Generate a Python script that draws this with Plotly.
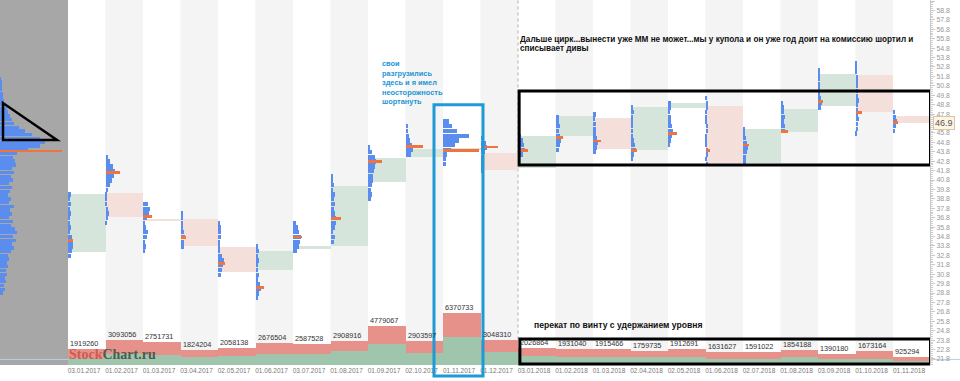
import plotly.graph_objects as go

# ---------------- data ----------------
months = ["03.01.2017", "01.02.2017", "01.03.2017", "03.04.2017", "02.05.2017", "01.06.2017",
          "03.07.2017", "01.08.2017", "01.09.2017", "02.10.2017", "01.11.2017", "01.12.2017",
          "03.01.2018", "01.02.2018", "01.03.2018", "02.04.2018", "02.05.2018", "01.06.2018",
          "02.07.2018", "01.08.2018", "03.09.2018", "01.10.2018", "01.11.2018"]

open_px = [33.19, 39.39, 36.62, 36.66, 33.72, 31.24, 33.50, 33.79, 40.62, 43.27, 44.00, 43.70,
           42.04, 45.50, 47.41, 43.98, 48.41, 48.65, 42.57, 45.93, 48.65, 51.94, 47.59]
close_px = [39.28, 36.90, 36.45, 33.82, 31.07, 33.30, 33.75, 40.16, 43.17, 44.09, 44.15, 41.86,
            45.50, 47.59, 44.06, 48.58, 48.94, 42.57, 46.18, 48.34, 52.05, 47.98, 46.82]

poc_price = [34.40, 41.57, 36.90, 34.72, 31.95, 29.41, 34.75, 36.73, 42.74, 44.33, 43.95, 44.30,
             43.95, 45.33, 44.94, 43.95, 45.71, 43.95, 44.51, 45.93, 49.11, 47.98, 46.88]
poc_volume = [5, 14, 9, 5, 7, 8, 9, 10, 14, 17, 36, 17, 10, 7, 8, 6, 9, 4, 6, 7, 5, 6, 5]

# monthly volume profile: first price level, then volumes per 0.5 step
profile_start = [32.75, 36.25, 33.25, 33.75, 30.75, 28.25, 33.25, 34.25, 38.75, 43.5, 42.5, 41.75,
                 43.5, 44.0, 43.75, 43.0, 44.5, 42.5, 42.75, 46.0, 48.5, 45.75, 46.0]
profile_vol = [
    [3, 4, 5, 5, 4, 2, 3, 2, 2, 3, 2, 3, 2, 3],
    [1, 2, 3, 2, 1, 1, 1, 2, 4, 6, 8, 9, 7, 4, 2],
    [2, 3, 2, 4, 5, 3, 2, 4, 6, 7, 5],
    [3, 3, 4, 3, 2, 2, 2, 2],
    [3, 4, 5, 6, 4, 2, 2, 2, 3, 3, 3, 2],
    [2, 3, 5, 4, 2, 3, 2, 2, 3, 2, 3, 2],
    [4, 6, 7, 8, 6, 5, 3],
    [3, 4, 2, 4, 5, 5, 4, 3, 4, 3, 4, 2, 3, 2, 2],
    [3, 4, 3, 4, 5, 5, 6, 7, 8, 7, 4, 2],
    [5, 7, 6, 4, 3, 2, 2],
    [3, 3, 4, 8, 12, 16, 26, 14, 9, 6],
    [2, 3, 2, 3, 4, 6, 5, 2],
    [5, 7, 6, 5, 3],
    [3, 4, 5, 4, 3, 4, 3, 3],
    [3, 4, 5, 4, 3, 3, 3, 2, 3],
    [2, 3, 5, 4, 3, 2, 2, 2, 2, 2, 3, 2],
    [2, 3, 4, 5, 4, 3, 3, 2, 3, 3],
    [2, 1, 2, 2, 1, 1, 1, 2, 2, 1, 1, 1, 2, 2, 1],
    [3, 3, 4, 5, 4, 3, 2, 2],
    [4, 4, 3, 4, 3, 3, 2],
    [3, 4, 3, 2, 2, 2, 2, 2, 2],
    [1, 2, 2, 3, 2, 2, 2, 3, 2, 2, 2, 2, 2, 1, 1, 1],
    [2, 3, 4, 3, 2],
]

# overall profile (left panel): first level 28.8, step 0.4
total_profile_start = 28.8
total_profile_vol = [3, 5, 4, 6, 5, 7, 6, 8, 7, 9, 8, 11, 14, 12, 16, 13, 17, 15, 11, 13,
                     9, 12, 10, 14, 9, 11, 8, 10, 12, 9, 13, 11, 14, 12, 16, 15, 13, 17, 28, 40,
                     45, 40, 32, 25, 19, 14, 12, 10, 8, 7, 5, 4, 3, 3, 2, 2, 2, 1]
total_poc_price = 43.88
total_poc_volume = 62

volume_total = [1919260, 3093056, 2751731, 1824204, 2058138, 2676504, 2587528, 2908916,
                4779067, 2903597, 6370733, 3048310, 2026864, 1931040, 1915466, 1759735,
                1912691, 1631627, 1591022, 1854188, 1390180, 1673164, 925294]
volume_buy = [900000, 1350000, 1200000, 1000000, 1070000, 1300000, 1300000, 1670000,
              2600000, 1470000, 3380000, 1590000, 1150000, 1000000, 950000, 950000,
              1000000, 780000, 750000, 950000, 700000, 760000, 450000]

last_price = 46.9
price_ticks = [round(21.8 + k, 1) for k in range(39)]

note_blue = ["свои", "разгрузились", "здесь и я имел", "неосторожность", "шортануть"]
note_top = ["Дальше цирк...вынести уже ММ не может...мы у купола и он уже год доит на комиссию шортил и",
            "списывает дивы"]
note_bottom = "перекат по винту с удержанием уровня"

# ---------------- style ----------------
COL_PX = 37.5
PLOT_H = 365
X_MIN, X_MAX = -68 / COL_PX, 862 / COL_PX
Y_MIN, Y_MAX = 21.16, 59.91
BLUE = "#5b8def"
ORANGE = "#f0743e"
BOX_UP, BOX_DN = "#d5e5db", "#f5dfdb"
VOL_RED, VOL_GREEN = "#e6928a", "#9fc6ad"
FONT = "Liberation Sans"


def ypaper(px):
    return (PLOT_H - px) / PLOT_H


n = len(months)
idx = list(range(n))
fig = go.Figure()

# month boxes (open-close range)
fig.add_trace(go.Bar(
    x=[i + 0.5 for i in idx],
    y=[abs(c - o) for o, c in zip(open_px, close_px)],
    base=[min(o, c) for o, c in zip(open_px, close_px)],
    width=1, marker=dict(color=[BOX_UP if c >= o else BOX_DN for o, c in zip(open_px, close_px)], line_width=0),
    hoverinfo="skip"))

# monthly profiles
py, pl, pb = [], [], []
for i, (s, vals) in enumerate(zip(profile_start, profile_vol)):
    for k, v in enumerate(vals):
        py.append(s + 0.5 * k)
        pl.append(v / COL_PX)
        pb.append(i)
fig.add_trace(go.Bar(orientation="h", y=py, x=pl, base=pb, width=0.46,
                     marker=dict(color=BLUE, line_width=0), hoverinfo="skip"))

# overall profile
ty = [total_profile_start + 0.4 * k for k in range(len(total_profile_vol))]
fig.add_trace(go.Bar(orientation="h", y=ty, x=[v / COL_PX for v in total_profile_vol],
                     base=[X_MIN] * len(ty), width=0.36,
                     marker=dict(color=BLUE, line_width=0), hoverinfo="skip"))

# POC lines
fig.add_trace(go.Bar(orientation="h", y=poc_price + [total_poc_price],
                     x=[v / COL_PX for v in poc_volume] + [total_poc_volume / COL_PX],
                     base=idx + [X_MIN], width=0.28,
                     marker=dict(color=ORANGE, line_width=0), hoverinfo="skip"))

# volume
fig.add_trace(go.Bar(x=[i + 0.5 for i in idx], y=volume_buy, base=0, width=1, yaxis="y2",
                     marker=dict(color=VOL_GREEN, line_width=0), hoverinfo="skip"))
fig.add_trace(go.Bar(x=[i + 0.5 for i in idx], y=[t - b for t, b in zip(volume_total, volume_buy)],
                     base=volume_buy, width=1, yaxis="y2",
                     marker=dict(color=VOL_RED, line_width=0), hoverinfo="skip"))

shapes = []
# left gray panel
shapes.append(dict(type="rect", xref="x", yref="paper", x0=X_MIN, x1=0, y0=0, y1=1,
                   fillcolor="#a7a7a7", line_width=0, layer="below"))
# stripes
for i in idx:
    if i % 2 == 1:
        shapes.append(dict(type="rect", xref="x", yref="paper", x0=i, x1=i + 1, y0=0, y1=1,
                           fillcolor="#f4f4f4", line_width=0, layer="below"))
# faint level line
shapes.append(dict(type="line", xref="paper", yref="y", x0=0, x1=1.035, y0=21.75, y1=21.75,
                   line=dict(color="#b5d0e6", width=1), layer="below"))
# year separator
shapes.append(dict(type="line", xref="x", yref="paper", x0=12, x1=12, y0=0.07, y1=1,
                   line=dict(color="#b0b0b0", width=1, dash="dot"), layer="below"))
# triangle in left panel
tx1, tx2 = X_MIN + 3 / COL_PX, X_MIN + 57 / COL_PX
shapes.append(dict(type="path", xref="x", yref="y",
                   path=f"M {tx1},48.97 L {tx1},45.04 L {tx2},45.04 Z",
                   line=dict(color="black", width=2.5)))
# blue frame around Nov 2017
shapes.append(dict(type="rect", xref="x", yref="paper", x0=9.76, x1=11.067, y0=-0.03, y1=0.713,
                   line=dict(color="#1e9ad6", width=3)))
# black frames 2018
shapes.append(dict(type="rect", xref="x", yref="y", x0=12.03, x1=23.0, y0=42.39, y1=50.25,
                   line=dict(color="black", width=3)))
shapes.append(dict(type="rect", xref="x", yref="paper", x0=12.05, x1=23.0, y0=0.003, y1=0.071,
                   line=dict(color="black", width=3)))

annotations = []
for i, v in enumerate(volume_total):
    annotations.append(dict(x=i, y=v, xref="x", yref="y2", text=str(v), showarrow=False,
                            xanchor="left", yanchor="bottom", xshift=0, yshift=-1,
                            font=dict(family=FONT, size=7.3, color="#333")))
annotations.append(dict(x=0, y=0.004, xref="x", yref="paper", xanchor="left", yanchor="bottom",
                        showarrow=False, xshift=-1,
                        text="<span style='color:#cf5a50'>Stock</span><span style='color:#4b5b4e'>Chart.ru</span>",
                        font=dict(family="Liberation Serif", size=14, weight="bold")))
for k, line in enumerate(note_blue):
    annotations.append(dict(x=(380 - 68) / COL_PX, y=ypaper(64 + 9.4 * k), xref="x", yref="paper",
                            xanchor="left", yanchor="middle", showarrow=False, text=line,
                            font=dict(family=FONT, size=7.4, color="#1a96d4", weight="bold")))
for k, line in enumerate(note_top):
    annotations.append(dict(x=12, y=ypaper(39.5 + 9 * k), xref="x", yref="paper", xanchor="left",
                            yanchor="middle", showarrow=False, xshift=0, text=line,
                            font=dict(family=FONT, size=8.2, color="#111", weight="bold")))
annotations.append(dict(x=(532 - 68) / COL_PX, y=ypaper(325), xref="x", yref="paper",
                        xanchor="left", yanchor="middle", showarrow=False, text=note_bottom,
                        font=dict(family=FONT, size=8.6, color="#111", weight="bold")))
annotations.append(dict(x=1, y=last_price, xref="paper", yref="y", xanchor="left", yanchor="middle",
                        xshift=3, showarrow=False, text=str(last_price), bgcolor="#fdf4e4",
                        bordercolor="#d6c6a4", borderwidth=1, borderpad=1,
                        font=dict(family=FONT, size=9, color="#555")))

# the label under the last-price tag is hidden, as in the reference
price_ticktext = ["" if abs(t - last_price) < 0.15 else f"{t:.1f}" for t in price_ticks]

fig.update_layout(
    width=960, height=381, margin=dict(l=0, r=30, t=0, b=16, autoexpand=False),
    plot_bgcolor="white", paper_bgcolor="white", barmode="overlay", bargap=0,
    showlegend=False, shapes=shapes, annotations=annotations,
    xaxis=dict(range=[X_MIN, X_MAX], tickvals=idx, ticktext=months, ticklabelshift=16,
               ticks="", showgrid=False, zeroline=False, showline=False, automargin=False,
               tickfont=dict(family=FONT, size=6.5, color="#777")),
    yaxis=dict(side="right", range=[Y_MIN, Y_MAX], tickvals=price_ticks,
               ticktext=price_ticktext, ticks="outside", ticklen=4, automargin=False,
               tickcolor="#c8c8c8", showline=True, linecolor="#c8c8c8", showgrid=False,
               zeroline=False, tickfont=dict(family=FONT, size=7, color="#999"),
               minor=dict(tickmode="linear", tick0=21.8, dtick=0.2, ticks="outside",
                          ticklen=2, tickcolor="#d0d0d0")),
    yaxis2=dict(overlaying="y", range=[0, 44.5e6], visible=False),
)

fig.write_html("out.html", config={"displayModeBar": False},
               post_script="document.body.style.margin='0';document.body.style.overflow='hidden';")
